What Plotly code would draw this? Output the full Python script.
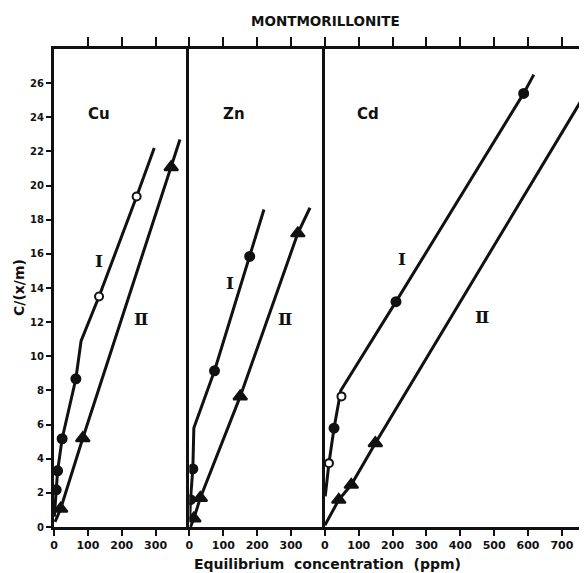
import plotly.graph_objects as go

# ---------------- data ----------------
cu_I_filled_x = [6.5, 10.6, 24, 64.6]
cu_I_filled_y = [2.18, 3.29, 5.17, 8.68]
cu_I_open_x = [133, 244]
cu_I_open_y = [13.5, 19.36]
cu_I_line_x = [1, 6.5, 10.6, 24, 64.6, 80, 133, 244, 296]
cu_I_line_y = [0.6, 2.18, 3.29, 5.17, 8.68, 10.9, 13.5, 19.36, 22.2]
cu_II_x = [19.6, 85, 346]
cu_II_y = [1.07, 5.2, 21.08]
cu_II_line_x = [3, 19.6, 85, 346, 372]
cu_II_line_y = [0.3, 1.07, 5.2, 21.08, 22.7]

zn_I_x = [3, 10, 74, 178]
zn_I_y = [1.6, 3.4, 9.15, 15.85]
zn_I_line_x = [1, 3, 10, 13, 74, 178, 220]
zn_I_line_y = [0.5, 1.6, 3.4, 5.8, 9.15, 15.85, 18.6]
zn_II_x = [13, 32, 150, 320]
zn_II_y = [0.5, 1.7, 7.65, 17.2]
zn_II_line_x = [3, 13, 32, 150, 320, 356]
zn_II_line_y = [0.0, 0.5, 1.7, 7.65, 17.2, 18.7]

cd_I_filled_x = [27, 210, 587]
cd_I_filled_y = [5.79, 13.2, 25.4]
cd_I_open_x = [12, 49]
cd_I_open_y = [3.74, 7.65]
cd_I_line_x = [1, 12, 27, 47, 210, 587, 617]
cd_I_line_y = [1.8, 3.74, 5.79, 8.0, 13.2, 25.4, 26.5]
cd_II_x = [41, 78, 149, 775]
cd_II_y = [1.59, 2.47, 4.91, 25.6]
cd_II_line_x = [0, 41, 78, 149, 800]
cd_II_line_y = [0.1, 1.59, 2.47, 4.91, 26.4]

y_ticks = list(range(0, 27, 2))
x_ticks_small = [0, 100, 200, 300]
x_ticks_cd = [0, 100, 200, 300, 400, 500, 600, 700]
panel_names = ["Cu", "Zn", "Cd"]
x_max = [400, 400, 780]

# ---------------- figure ----------------
BLACK = "#111111"
total = sum(x_max)
d1 = x_max[0] / total
d2 = (x_max[0] + x_max[1]) / total
domains = [[0, d1], [d1, d2], [d2, 1]]

fig = go.Figure()

def line(x, y, ax):
    fig.add_trace(go.Scatter(x=x, y=y, mode="lines", xaxis=ax, yaxis="y",
                             line=dict(color=BLACK, width=3), showlegend=False,
                             hoverinfo="skip"))

def marks(x, y, ax, symbol, size, fill):
    fig.add_trace(go.Scatter(x=x, y=y, mode="markers", xaxis=ax, yaxis="y",
                             marker=dict(symbol=symbol, size=size, color=fill,
                                         line=dict(color=BLACK, width=2)),
                             showlegend=False, hoverinfo="skip"))

# empty traces so the divider axes and top tick axes get drawn
for xa, ya in [("x2", "y2"), ("x3", "y3"), ("x4", "y"), ("x5", "y"), ("x6", "y")]:
    fig.add_trace(go.Scatter(x=[None], y=[None], xaxis=xa, yaxis=ya,
                             showlegend=False, hoverinfo="skip"))

line(cu_I_line_x, cu_I_line_y, "x")
line(cu_II_line_x, cu_II_line_y, "x")
line(zn_I_line_x, zn_I_line_y, "x2")
line(zn_II_line_x, zn_II_line_y, "x2")
line(cd_I_line_x, cd_I_line_y, "x3")
line(cd_II_line_x, cd_II_line_y, "x3")

marks(cu_I_filled_x, cu_I_filled_y, "x", "circle", 9, BLACK)
marks(cu_I_open_x, cu_I_open_y, "x", "circle", 8, "white")
marks(cu_II_x, cu_II_y, "x", "triangle-up", 12, BLACK)
marks(zn_I_x, zn_I_y, "x2", "circle", 9, BLACK)
marks(zn_II_x, zn_II_y, "x2", "triangle-up", 12, BLACK)
marks(cd_I_filled_x, cd_I_filled_y, "x3", "circle", 9, BLACK)
marks(cd_I_open_x, cd_I_open_y, "x3", "circle", 8, "white")
marks(cd_II_x, cd_II_y, "x3", "triangle-up", 12, BLACK)

tick_font = dict(family="DejaVu Sans", size=11, color=BLACK, weight="bold")

def bottom_axis(i, tickvals):
    return dict(domain=domains[i], range=[0, x_max[i]], anchor="y",
                showline=True, linewidth=3, linecolor=BLACK,
                ticks="outside", ticklen=6, tickwidth=2, tickcolor=BLACK,
                tickvals=tickvals, ticktext=[str(v) for v in tickvals],
                tickfont=tick_font, showgrid=False, zeroline=False,
                automargin=False)

def top_axis(i, overl, tickvals):
    return dict(domain=domains[i], range=[0, x_max[i]], anchor="y",
                overlaying=overl, side="top",
                showline=True, linewidth=3, linecolor=BLACK,
                ticks="outside", ticklen=9, tickwidth=2, tickcolor=BLACK,
                tickvals=tickvals, showticklabels=False,
                showgrid=False, zeroline=False, automargin=False)

def divider_axis(xa):
    return dict(range=[0, 28], anchor=xa, domain=[0, 1],
                showline=True, linewidth=3, linecolor=BLACK,
                showticklabels=False, ticks="", showgrid=False,
                zeroline=False, automargin=False)

# the page puts the figure a few px in from the top-left corner, so the
# figure is made smaller and its margins narrower to compensate
layout = dict(
    width=581, height=566,
    margin=dict(l=46, r=0, t=41, b=47, autoexpand=False),
    paper_bgcolor="white", plot_bgcolor="rgba(0,0,0,0)",
    xaxis=bottom_axis(0, x_ticks_small),
    xaxis2=bottom_axis(1, x_ticks_small),
    xaxis3=bottom_axis(2, x_ticks_cd),
    xaxis4=top_axis(0, "x", [100, 200, 300]),
    xaxis5=top_axis(1, "x2", [0, 100, 200, 300]),
    xaxis6=top_axis(2, "x3", x_ticks_cd),
    yaxis=dict(range=[0, 28], domain=[0, 1], anchor="x",
               showline=True, linewidth=3, linecolor=BLACK,
               ticks="outside", ticklen=5, tickwidth=2, tickcolor=BLACK,
               tickvals=y_ticks, tickfont=dict(family="DejaVu Sans", size=10,
                                               color=BLACK, weight="bold"),
               showgrid=False, zeroline=False, automargin=False),
    yaxis2=divider_axis("x2"),
    yaxis3=divider_axis("x3"),
)
fig.update_layout(**layout)

ann = []
# panel names
for ax, nm, xv in zip(["x", "x2", "x3"], panel_names, [132, 132, 127]):
    ann.append(dict(x=xv, y=24.2, xref=ax, yref="y", text=nm, showarrow=False,
                    font=dict(family="DejaVu Sans", size=15, color=BLACK, weight="bold")))
# roman numerals
roman = [("x", 132, 15.6, "Ⅰ"), ("x", 258, 12.17, "Ⅱ"),
         ("x2", 119, 14.3, "Ⅰ"), ("x2", 283, 12.17, "Ⅱ"),
         ("x3", 228, 15.7, "Ⅰ"), ("x3", 464, 12.3, "Ⅱ")]
for ax, xv, yv, t in roman:
    ann.append(dict(x=xv, y=yv, xref=ax, yref="y", text=t, showarrow=False,
                    font=dict(family="DejaVu Serif", size=17, color=BLACK, weight="bold")))
# titles
ann.append(dict(x=0.507, y=1.0586, xref="paper", yref="paper", text="MONTMORILLONITE",
                xanchor="center", yanchor="middle", showarrow=False,
                font=dict(family="DejaVu Sans", size=13.5, color=BLACK, weight="bold")))
ann.append(dict(x=0.512, y=-0.0774, xref="paper", yref="paper",
                text="Equilibrium  concentration  (ppm)", showarrow=False,
                xanchor="center", yanchor="middle",
                font=dict(family="DejaVu Sans", size=14, color=BLACK, weight="bold")))
ann.append(dict(x=-0.0654, y=0.5, xref="paper", yref="paper", text="C/(x/m)",
                textangle=-90, showarrow=False, xanchor="center", yanchor="middle",
                font=dict(family="DejaVu Sans", size=14, color=BLACK, weight="bold")))
fig.update_layout(annotations=ann)

fig.write_html("out.html")
